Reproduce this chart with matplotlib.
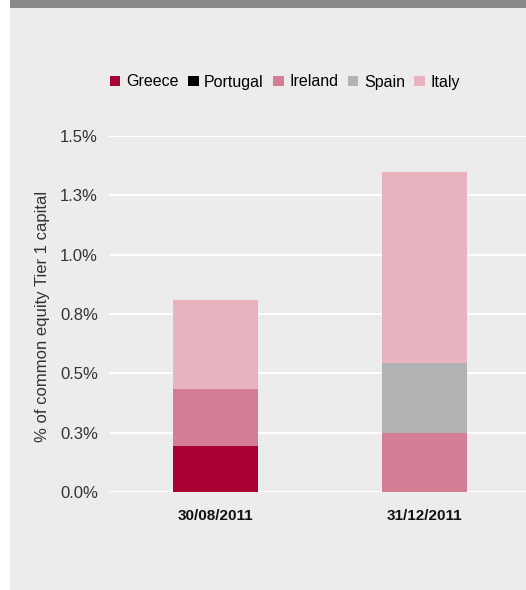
import matplotlib
matplotlib.use("Agg")
import matplotlib.pyplot as plt
from matplotlib.patches import Rectangle

# ---- data ------------------------------------------------------------------
dates = ["30/08/2011", "31/12/2011"]
countries = ["Greece", "Portugal", "Ireland", "Spain", "Italy"]
greece = [0.194, 0.0]
portugal = [0.0, 0.0]
ireland = [0.241, 0.250]
spain = [0.0, 0.295]
italy = [0.375, 0.804]
y_ticks = [0.0, 0.25, 0.5, 0.75, 1.0, 1.25, 1.5]
y_tick_labels = ["0.0%", "0.3%", "0.5%", "0.8%", "1.0%", "1.3%", "1.5%"]

colors = ["#a80032", "#000000", "#d47e96", "#b1b2b4", "#e6b3bf"]
bg = "#ebeceb"

plt.rcParams["font.family"] = ["Liberation Sans", "DejaVu Sans"]

W, H = 526, 590
fig = plt.figure(figsize=(W / 100, H / 100), dpi=100, facecolor="white")

# panel background + grey bar on top (left strip stays white)
fig.patches.append(Rectangle((10 / W, 0), 1 - 10 / W, 1, transform=fig.transFigure,
                             facecolor=bg, edgecolor="none", zorder=-2))
fig.patches.append(Rectangle((10 / W, 1 - 8 / H), 1 - 10 / W, 8 / H,
                             transform=fig.transFigure,
                             facecolor="#87888a", edgecolor="none", zorder=-1))

ax = fig.add_axes([109 / W, (H - 492) / H, 1 - 109 / W, (492 - 136) / H])
ax.set_facecolor(bg)

x = [0, 1]
series = [greece, portugal, ireland, spain, italy]
bottom = [0.0, 0.0]
handles = []
for name, vals, col in zip(countries, series, colors):
    b = ax.bar(x, vals, width=0.407, bottom=bottom, color=col, label=name, zorder=3)
    handles.append(b)
    bottom = [bt + v for bt, v in zip(bottom, vals)]

ax.set_xlim(-0.51, 1.486)
ax.set_ylim(0, 1.5)
ax.set_yticks(y_ticks)
ax.set_yticklabels(y_tick_labels)
ax.set_xticks(x)
ax.set_xticklabels(dates, fontweight="bold")
ax.tick_params(axis="y", length=0, pad=8, labelsize=12, labelcolor="#333333")
ax.tick_params(axis="x", length=0, pad=12, labelsize=11, labelcolor="#111111")
ax.grid(axis="y", color="white", linewidth=1.5, zorder=0)
for sp in ax.spines.values():
    sp.set_visible(False)

# y-axis title placed in figure pixels
fig.text(43 / W, 1 - 316 / H, "% of common equity Tier 1 capital", rotation=90,
         ha="center", va="center", fontsize=12, color="#333333")

fig.legend(handles, countries, loc="center", bbox_to_anchor=(285 / W, 1 - 82 / H),
           ncol=5, frameon=False, fontsize=11.5, handlelength=0.65, handleheight=0.65,
           handletextpad=0.35, columnspacing=0.6, borderpad=0)

fig.savefig("out.png", dpi=100, facecolor=fig.get_facecolor())
